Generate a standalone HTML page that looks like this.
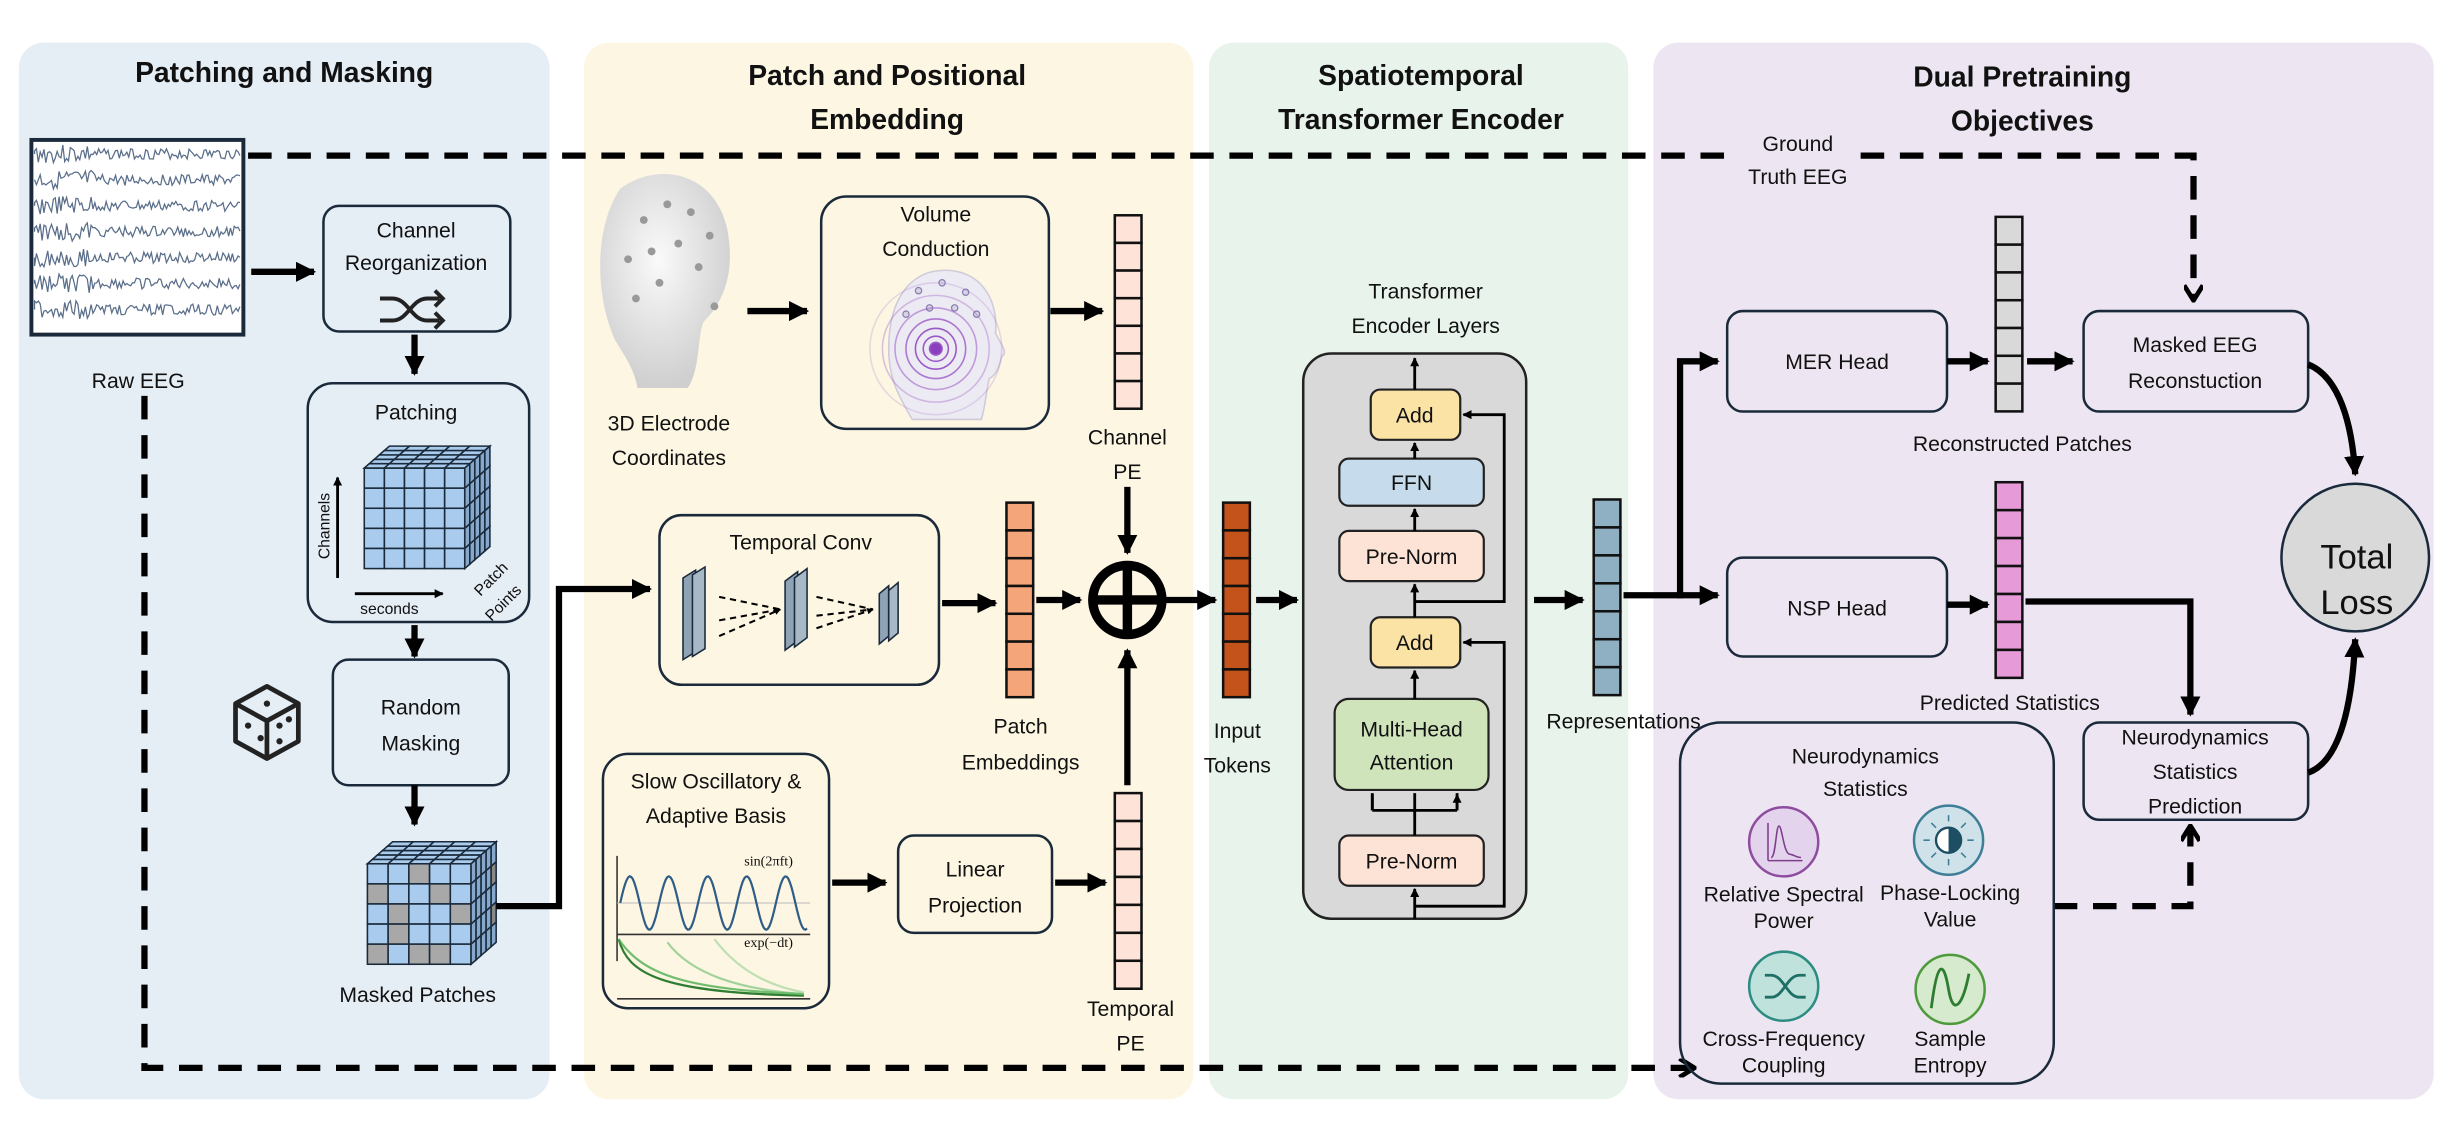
<!DOCTYPE html>
<html><head><meta charset="utf-8"><style>
html,body{margin:0;padding:0;background:#fff;}
svg{display:block;}
text{font-family:"Liberation Sans",sans-serif;fill:#111;}
.t{font-size:13.5px;text-anchor:middle;}
.h{font-size:18px;font-weight:bold;text-anchor:middle;}
.s{font-size:10px;text-anchor:middle;}
.box{fill:none;stroke:#1a2a3a;stroke-width:1.6;}
.ln{fill:none;stroke:#000;stroke-width:4;}
.dl{fill:none;stroke:#000;stroke-width:4;stroke-dasharray:15 10;}
.th{fill:none;stroke:#000;stroke-width:1.8;}
</style></head><body>
<svg id="s" width="2462" height="1134" viewBox="0 0 1568 722" xmlns="http://www.w3.org/2000/svg">
<defs>
<marker id="a" viewBox="0 0 10 10" refX="9" refY="5" markerWidth="3.2" markerHeight="3.2" orient="auto"><path d="M0,0L10,5L0,10z" fill="#000"/></marker>
<marker id="c" viewBox="0 0 10 10" refX="8" refY="5" markerWidth="3" markerHeight="3" orient="auto"><path d="M1,0L9,5L1,10" fill="none" stroke="#000" stroke-width="2.5"/></marker>
<radialGradient id="hg" cx="0.45" cy="0.4" r="0.6"><stop offset="0" stop-color="#fafafa"/><stop offset="1" stop-color="#cfcfcf"/></radialGradient>
<clipPath id="vc"><rect x="525" y="168" width="141" height="103" rx="14"/></clipPath>
</defs>
<rect x="12" y="27" width="338" height="673" rx="16" fill="#e5edf5"/>
<rect x="372" y="27" width="388" height="673" rx="16" fill="#fcf6e3"/>
<rect x="770" y="27" width="267" height="673" rx="16" fill="#e8f3ec"/>
<rect x="1053" y="27" width="497" height="673" rx="16" fill="#ede6f2"/>
<text class="h" x="181" y="52">Patching and Masking</text>
<text class="h" x="565" y="54">Patch and Positional</text>
<text class="h" x="565" y="82">Embedding</text>
<text class="h" x="905" y="54">Spatiotemporal</text>
<text class="h" x="905" y="82">Transformer Encoder</text>
<text class="h" x="1288" y="55">Dual Pretraining</text>
<text class="h" x="1288" y="83">Objectives</text>

<path class="dl" d="M158,99H1108"/>
<path class="dl" d="M1185,99H1397V190" marker-end="url(#c)"/>
<text class="t" x="1145" y="96">Ground</text>
<text class="t" x="1145" y="117">Truth EEG</text>
<path class="dl" d="M92,252V680H1078" marker-end="url(#c)"/>
<path class="dl" d="M1308,577H1395V527" marker-end="url(#c)"/>

<rect x="20" y="89" width="135" height="124" fill="#fff" stroke="#1b2a3a" stroke-width="2.5"/>
<g id="eeg" fill="none" stroke="#5a6e8a" stroke-width="0.8"></g>
<text class="t" x="88" y="247">Raw EEG</text>
<path class="ln" d="M160,173H200" marker-end="url(#a)"/>

<rect class="box" x="206" y="131" width="119" height="80" rx="10"/>
<text class="t" x="265" y="151">Channel</text>
<text class="t" x="265" y="172">Reorganization</text>
<g fill="none" stroke="#222" stroke-width="2.5"><path d="M242,190h8c10,0,12,14,22,14h8M242,204h8c10,0,12,-14,22,-14h8"/><path d="M277,185l5,5l-5,5M277,199l5,5l-5,5"/></g>
<path class="ln" d="M264,213V238" marker-end="url(#a)"/>

<rect class="box" x="196" y="244" width="141" height="152" rx="16"/>
<text class="t" x="265" y="267">Patching</text>
<g id="cube1"></g>
<path class="th" d="M215,368V304" marker-end="url(#a)"/>
<text x="210" y="356" style="font-size:10px" transform="rotate(-90 210 356)">Channels</text>
<path class="th" d="M226,378H282" marker-end="url(#a)"/>
<text x="248" y="391" class="s">seconds</text>
<text x="306" y="380" style="font-size:10px" transform="rotate(-45 306 380)">Patch</text>
<text x="313" y="396" style="font-size:10px" transform="rotate(-45 313 396)">Points</text>
<path class="ln" d="M264,398V418" marker-end="url(#a)"/>

<rect class="box" x="212" y="420" width="112" height="80" rx="10"/>
<text class="t" x="268" y="455">Random</text>
<text class="t" x="268" y="478">Masking</text>
<g fill="none" stroke="#222" stroke-width="3" stroke-linejoin="round"><path d="M170,437L190,448V472L170,483L150,472V448Z"/><path d="M150,448L170,459L190,448M170,459V483"/></g>
<g fill="#222"><circle cx="170" cy="448" r="2"/><circle cx="158" cy="462" r="2"/><circle cx="166" cy="470" r="2"/><circle cx="178" cy="462" r="2"/><circle cx="184" cy="458" r="2"/><circle cx="178" cy="472" r="2"/></g>
<path class="ln" d="M264,500V525" marker-end="url(#a)"/>
<g id="cube2"></g>
<text class="t" x="266" y="638">Masked Patches</text>
<path class="ln" d="M316,577H356V375H414" marker-end="url(#a)"/>

<path d="M395,120c25,-18,60,-10,68,25c5,25,0,45,-15,60c-4,10,-2,30,-10,42h-32c-2,-12,-8,-20,-14,-30c-12,-25,-15,-70,3,-97z" fill="url(#hg)"/>
<g fill="#999"><circle cx="410" cy="140" r="2.5"/><circle cx="425" cy="130" r="2.5"/><circle cx="440" cy="135" r="2.5"/><circle cx="452" cy="150" r="2.5"/><circle cx="415" cy="160" r="2.5"/><circle cx="432" cy="155" r="2.5"/><circle cx="445" cy="170" r="2.5"/><circle cx="400" cy="165" r="2.5"/><circle cx="420" cy="180" r="2.5"/><circle cx="455" cy="195" r="2.5"/><circle cx="405" cy="190" r="2.5"/></g>
<text class="t" x="426" y="274">3D Electrode</text>
<text class="t" x="426" y="296">Coordinates</text>
<path class="ln" d="M476,198H514" marker-end="url(#a)"/>

<rect class="box" x="523" y="125" width="145" height="148" rx="16" fill="#fff"/>
<text class="t" x="596" y="141">Volume</text>
<text class="t" x="596" y="163">Conduction</text>
<g clip-path="url(#vc)">
<path d="M566,222c0,-32,14,-50,36,-50c22,0,34,18,32,40c4,8,8,12,4,15c-2,8,-4,12,-8,14c-2,8,-2,16,-5,26h-44c-8,-14,-15,-25,-15,-45z" fill="#eceaf2" stroke="#cfcbd8"/>
<g fill="#d8d4e4" stroke="#8a7fb0" stroke-width=".8"><circle cx="585" cy="185" r="2"/><circle cx="600" cy="180" r="2"/><circle cx="615" cy="186" r="2"/><circle cx="577" cy="200" r="2"/><circle cx="592" cy="196" r="2"/><circle cx="608" cy="196" r="2"/><circle cx="622" cy="200" r="2"/></g>
<g fill="none" stroke="#9b59c6"><circle cx="596" cy="222" r="4" fill="#8a3fc0"/><circle cx="596" cy="222" r="8"/><circle cx="596" cy="222" r="13"/><circle cx="596" cy="222" r="19" opacity=".8"/><circle cx="596" cy="222" r="26" opacity=".55"/><circle cx="596" cy="222" r="34" opacity=".35"/><circle cx="596" cy="222" r="42" opacity=".2"/></g>
</g>
<path class="ln" d="M669,198H702" marker-end="url(#a)"/>
<g id="chpe"></g>
<text class="t" x="718" y="283">Channel</text>
<text class="t" x="718" y="305">PE</text>
<path class="ln" d="M718,310V352" marker-end="url(#a)"/>

<rect class="box" x="420" y="328" width="178" height="108" rx="14" fill="#fff"/>
<text class="t" x="510" y="350">Temporal Conv</text>
<g stroke="#1a2a3a" stroke-width="1" fill="#8ea4b6"><path d="M435,368l8,-5v52l-8,5z"/><path d="M441,366l8,-5v52l-8,5z" fill="#a7b9c7"/><path d="M500,370l8,-6v44l-8,6z"/><path d="M506,368l8,-6v44l-8,6z" fill="#a7b9c7"/><path d="M560,378l6,-5v32l-6,5z"/><path d="M566,376l6,-5v32l-6,5z" fill="#a7b9c7"/></g>
<g stroke="#000" stroke-width="1.3" stroke-dasharray="4 3" fill="none"><path d="M458,380L497,388M458,395L497,388M458,405L497,388" marker-end="url(#a)"/><path d="M520,380L556,388M520,392L556,388M520,400L556,388" marker-end="url(#a)"/></g>
<path class="ln" d="M600,384H634" marker-end="url(#a)"/>
<g id="pe"></g>
<text class="t" x="650" y="467">Patch</text>
<text class="t" x="650" y="490">Embeddings</text>
<path class="ln" d="M660,382H688" marker-end="url(#a)"/>
<circle cx="718" cy="382" r="22" fill="none" stroke="#000" stroke-width="6"/>
<path d="M694,382H742M718,358V406" stroke="#000" stroke-width="6"/>
<path class="ln" d="M742,382H774" marker-end="url(#a)"/>
<path class="ln" d="M718,500V414" marker-end="url(#a)"/>

<rect class="box" x="384" y="480" width="144" height="162" rx="16" fill="#fff"/>
<text class="t" x="456" y="502">Slow Oscillatory &amp;</text>
<text class="t" x="456" y="524">Adaptive Basis</text>
<g fill="none" stroke="#333" stroke-width="1"><path d="M393,612V545M393,595H516M393,636H516" /></g>
<path d="M393,575H516" stroke="#bbb" stroke-width=".6"/>
<path id="sine" fill="none" stroke="#2f5d86" stroke-width="1.4"/>
<text x="505" y="551" style="font-size:9px;font-family:'Liberation Serif',serif" text-anchor="end" fill="#555">sin(2πft)</text>
<text x="505" y="603" style="font-size:9px;font-family:'Liberation Serif',serif" text-anchor="end" fill="#555">exp(−dt)</text>
<g fill="none" stroke-width="1.4"><path d="M394,598C400,620,420,632,512,634" stroke="#2e7d32"/><path d="M394,598C410,622,440,630,512,633" stroke="#4caf50" opacity=".8"/><path d="M425,600C440,620,470,630,512,633" stroke="#66bb6a" opacity=".6"/><path d="M455,598C470,618,490,628,512,632" stroke="#81c784" opacity=".5"/></g>
<path class="ln" d="M530,562H564" marker-end="url(#a)"/>
<rect class="box" x="572" y="532" width="98" height="62" rx="10" fill="#fff"/>
<text class="t" x="621" y="558">Linear</text>
<text class="t" x="621" y="581">Projection</text>
<path class="ln" d="M672,562H704" marker-end="url(#a)"/>
<g id="tpe"></g>
<text class="t" x="720" y="647">Temporal</text>
<text class="t" x="720" y="669">PE</text>

<g id="it"></g>
<text class="t" x="788" y="470">Input</text>
<text class="t" x="788" y="492">Tokens</text>
<path class="ln" d="M800,382H826" marker-end="url(#a)"/>

<text class="t" x="908" y="190">Transformer</text>
<text class="t" x="908" y="212">Encoder Layers</text>
<rect x="830" y="225" width="142" height="360" rx="18" fill="#d9d9d9" stroke="#222" stroke-width="1.6"/>
<g stroke="#222" stroke-width="1.4">
<rect x="873" y="248" width="57" height="32" rx="6" fill="#fbe3a6"/>
<rect x="853" y="292" width="92" height="30" rx="6" fill="#c6dcec"/>
<rect x="853" y="338" width="92" height="32" rx="6" fill="#fce3d6"/>
<rect x="873" y="393" width="57" height="32" rx="6" fill="#fbe3a6"/>
<rect x="850" y="445" width="98" height="58" rx="9" fill="#d0e4bc"/>
<rect x="853" y="532" width="92" height="32" rx="6" fill="#fce3d6"/>
</g>
<g font-size="13">
<text class="t" x="901" y="269">Add</text>
<text class="t" x="899" y="312">FFN</text>
<text class="t" x="899" y="359">Pre-Norm</text>
<text class="t" x="901" y="414">Add</text>
<text class="t" x="899" y="469">Multi-Head</text>
<text class="t" x="899" y="490">Attention</text>
<text class="t" x="899" y="553">Pre-Norm</text>
</g>
<g fill="none" stroke="#000" stroke-width="1.8">
<path d="M901,248V228" marker-end="url(#a)"/>
<path d="M901,292V282" marker-end="url(#a)"/>
<path d="M901,338V324" marker-end="url(#a)"/>
<path d="M901,393V372" marker-end="url(#a)"/>
<path d="M901,445V427" marker-end="url(#a)"/>
<path d="M901,532V505M874,516V505M928,516V505M874,516H928" />
<path d="M874,516V506M928,516V506" marker-end="url(#a)"/>
<path d="M901,585V566" marker-end="url(#a)"/>
<path d="M901,577H958V409H932" marker-end="url(#a)"/>
<path d="M901,383H958V264H932" marker-end="url(#a)"/>
</g>
<path class="ln" d="M977,382H1008" marker-end="url(#a)"/>
<g id="rep"></g>
<text class="t" x="1034" y="464">Representations</text>
<path class="ln" d="M1034,379H1070V230H1094" marker-end="url(#a)"/>
<path class="ln" d="M1068,379H1094" marker-end="url(#a)"/>

<rect class="box" x="1100" y="198" width="140" height="64" rx="10" fill="#fff"/>
<text class="t" x="1170" y="235">MER Head</text>
<path class="ln" d="M1240,230H1266" marker-end="url(#a)"/>
<g id="rec"></g>
<path class="ln" d="M1291,230H1320" marker-end="url(#a)"/>
<text class="t" x="1288" y="287">Reconstructed Patches</text>
<rect class="box" x="1327" y="198" width="143" height="64" rx="10" fill="#fff"/>
<text class="t" x="1398" y="224">Masked EEG</text>
<text class="t" x="1398" y="247">Reconstuction</text>

<rect class="box" x="1100" y="355" width="140" height="63" rx="10" fill="#fff"/>
<text class="t" x="1170" y="392">NSP Head</text>
<path class="ln" d="M1240,385H1266" marker-end="url(#a)"/>
<g id="pred"></g>
<path class="ln" d="M1290,383H1395V455" marker-end="url(#a)"/>
<text class="t" x="1280" y="452">Predicted Statistics</text>
<rect class="box" x="1327" y="460" width="143" height="62" rx="10" fill="#fff"/>
<text class="t" x="1398" y="474">Neurodynamics</text>
<text class="t" x="1398" y="496">Statistics</text>
<text class="t" x="1398" y="518">Prediction</text>

<circle cx="1500" cy="355" r="47" fill="#d9d9d9" stroke="#1a2a3a" stroke-width="1.6"/>
<text x="1501" y="362" style="font-size:22px" text-anchor="middle">Total</text>
<text x="1501" y="391" style="font-size:22px" text-anchor="middle">Loss</text>
<path class="ln" d="M1470,232C1490,240,1498,270,1500,302" marker-end="url(#a)"/>
<path class="ln" d="M1470,492C1490,485,1498,450,1500,407" marker-end="url(#a)"/>

<rect class="box" x="1070" y="460" width="238" height="230" rx="26" fill="none"/>
<text class="t" x="1188" y="486">Neurodynamics</text>
<text class="t" x="1188" y="507">Statistics</text>
<circle cx="1136" cy="536" r="22" fill="#e4d3ec" stroke="#8e4d9e" stroke-width="1.6"/>
<path d="M1126,548V524M1126,548H1148M1128,546C1131,546,1131,526,1133,526C1135,526,1136,544,1140,544C1142,544,1144,546,1147,546" fill="none" stroke="#7d3f8c" stroke-width="1"/>
<circle cx="1241" cy="535" r="22" fill="#cfe2ea" stroke="#3e7f98" stroke-width="1.6"/>
<circle cx="1241" cy="535" r="8" fill="#fff" stroke="#1d4e63" stroke-width="1.5"/><path d="M1241,527A8,8 0 0 1 1241,543Z" fill="#1d4e63"/>
<g stroke="#3e7f98" stroke-width="1"><path d="M1241,519V523M1241,547V551M1225,535H1229M1253,535H1257M1230,524l3,3M1252,524l-3,3M1230,546l3,-3M1252,546l-3,-3"/></g>
<circle cx="1136" cy="628" r="22" fill="#bfe3dc" stroke="#2d8c82" stroke-width="1.6"/>
<path d="M1124,621h4c8,0,10,14,18,14h4M1124,635h4c8,0,10,-14,18,-14h4" fill="none" stroke="#1f6f66" stroke-width="1.8"/>
<circle cx="1242" cy="630" r="22" fill="#d6ebcd" stroke="#4e9a3c" stroke-width="1.6"/>
<path d="M1230,642C1234,610,1238,612,1241,630C1244,648,1250,640,1254,620" fill="none" stroke="#2e7d32" stroke-width="1.8"/>
<g font-size="10.5">
<text class="t" x="1136" y="574">Relative Spectral</text>
<text class="t" x="1136" y="591">Power</text>
<text class="t" x="1242" y="573">Phase-Locking</text>
<text class="t" x="1242" y="590">Value</text>
<text class="t" x="1136" y="666">Cross-Frequency</text>
<text class="t" x="1136" y="683">Coupling</text>
<text class="t" x="1242" y="666">Sample</text>
<text class="t" x="1242" y="683">Entropy</text>
</g>
</svg>
<script>
var NS="http://www.w3.org/2000/svg";
function el(p,t,a){var e=document.createElementNS(NS,t);for(var k in a)e.setAttribute(k,a[k]);p.appendChild(e);return e;}
function col(id,x,y,n,h,fill){var g=document.getElementById(id);for(var i=0;i<n;i++)el(g,"rect",{x:x,y:y+i*h,width:17,height:h,fill:fill,stroke:"#111","stroke-width":1.6});}
col("chpe",710,137,7,17.6,"#fde3d8");
col("pe",641,320,7,17.7,"#f4a57a");
col("tpe",710,505,7,17.8,"#fde3d8");
col("it",779,320,7,17.7,"#c4531b");
col("rep",1015,318,7,17.8,"#8fb0c2");
col("rec",1271,138,7,17.7,"#d9d9d9");
col("pred",1271,307,7,17.8,"#e69ad8");
var g=document.getElementById("eeg");var seed=3;function r(){seed=(seed*9301+49297)%233280;return seed/233280;}
for(var j=0;j<7;j++){var y0=98+j*16.5,d="M22,"+y0;for(var x=22;x<=153;x+=1.2){d+="L"+x.toFixed(1)+","+(y0+(r()-0.5)*(x<60?12:7)).toFixed(1);}el(g,"path",{d:d});}
function cube(id,x,y,w,h,n,mask){var g=document.getElementById(id);var c=w/n,ch=h/n,dx=16,dy=-14;
for(var i=0;i<n;i++)for(var k=0;k<n;k++){var m=mask&&mask.indexOf(i*n+k)>=0;el(g,"rect",{x:x+k*c,y:y+i*ch,width:c,height:ch,fill:m?"#a8a8a8":"#a9cbee",stroke:"#1a2a3a","stroke-width":1});}
for(var i=0;i<n;i++)for(var k=0;k<n;k++){var x0=x+k*c+dx*i/n,y0=y+dy*i/n;el(g,"path",{d:"M"+(x0+dx/n)+","+(y0+dy/n)+"h"+c+"l"+(-dx/n)+","+(-dy/n)+"h"+(-c)+"z",fill:"#a9cbee",stroke:"#1a2a3a","stroke-width":1});}
for(var i=0;i<n;i++)for(var k=0;k<n;k++){var x0=x+w+dx*k/n,y0=y+i*ch+dy*k/n;var m=mask&&i%2==1&&k==n-1;el(g,"path",{d:"M"+x0+","+y0+"l"+(dx/n)+","+(dy/n)+"v"+ch+"l"+(-dx/n)+","+(-dy/n)+"z",fill:m?"#888":"#86a8cc",stroke:"#1a2a3a","stroke-width":1});}}
cube("cube1",232,298,64,64,5,null);
cube("cube2",234,550,66,64,5,[2,5,8,11,14,16,20,22,23]);
var d="";for(var x=395;x<=514;x+=1){var y=575-17*Math.sin((x-395)/119*2*Math.PI*4.8);d+=(d?"L":"M")+x+","+y.toFixed(1);}document.getElementById("sine").setAttribute("d",d);
</script>
</body></html>
